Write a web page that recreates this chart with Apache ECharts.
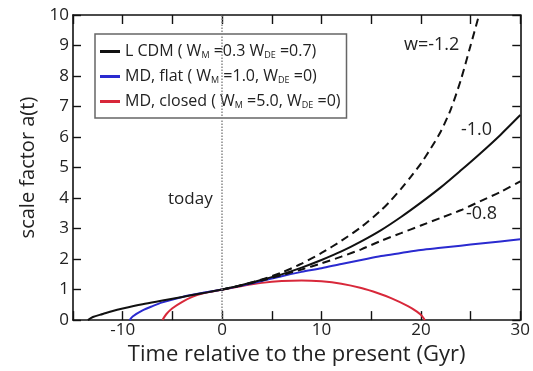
<!DOCTYPE html>
<html>
<head>
<meta charset="utf-8">
<script src="https://cdn.jsdelivr.net/npm/echarts@6/dist/echarts.min.js"></script>
<style>html,body{margin:0;padding:0;background:#fff}#c{width:533px;height:371px}</style>
</head>
<body>
<div id="c"></div>
<script>
// ---- data (t in Gyr relative to today, a = scale factor) ----
var lcdmT = [-13.5, -13, -12, -11, -10, -8, -6, -4, -2, 0, 2, 4, 6, 8, 10, 12, 14, 16, 18, 20, 22, 24, 26, 28, 30];
var lcdmA = [0, 0.1, 0.2, 0.3, 0.38, 0.52, 0.64, 0.76, 0.88, 1.0, 1.15, 1.32, 1.5, 1.72, 1.97, 2.25, 2.58, 2.95, 3.38, 3.85, 4.35, 4.9, 5.47, 6.07, 6.72];

var flatT = [-9.3, -9, -8, -7, -6, -4, -2, 0, 2, 4, 6, 8, 10, 12, 14, 16, 18, 20, 22, 24, 26, 28, 30];
var flatA = [0, 0.12, 0.32, 0.46, 0.58, 0.76, 0.89, 1.0, 1.13, 1.28, 1.44, 1.58, 1.7, 1.84, 1.97, 2.1, 2.2, 2.3, 2.37, 2.44, 2.51, 2.58, 2.65];

var closedT = [-6, -5.6, -5, -4, -3, -2, -1, 0, 2, 4, 6, 8, 10, 12, 14, 15.7, 17, 18.7, 19.6, 20.1, 20.4];
var closedA = [0, 0.2, 0.39, 0.6, 0.76, 0.87, 0.94, 1.0, 1.12, 1.22, 1.28, 1.3, 1.27, 1.19, 1.05, 0.88, 0.72, 0.46, 0.28, 0.14, 0];

var w12T = [0, 2, 4, 6, 8, 10, 12, 14, 16, 17, 18, 19, 20, 21, 22, 23, 24, 25, 25.85];
var w12A = [1.0, 1.15, 1.33, 1.56, 1.85, 2.2, 2.6, 3.05, 3.6, 3.93, 4.3, 4.7, 5.13, 5.63, 6.18, 6.9, 7.85, 9.0, 10];

var w08T = [0, 2, 4, 6, 8, 10, 12, 14, 16, 18, 20, 22, 24, 26, 28, 30];
var w08A = [1.0, 1.14, 1.3, 1.47, 1.66, 1.86, 2.08, 2.32, 2.6, 2.85, 3.1, 3.35, 3.6, 3.9, 4.2, 4.55];

var seriesNames = ['LCDM', 'MDflat', 'MDclosed'];
var legendTexts = {
  LCDM: 'L CDM ( W{sub|M} =0.3 W{sub|DE} =0.7)',
  MDflat: 'MD, flat ( W{sub|M} =1.0, W{sub|DE} =0)',
  MDclosed: 'MD, closed ( W{sub|M} =5.0, W{sub|DE} =0)'
};
var xTickLabels = [-10, 0, 10, 20, 30];
var yTickLabels = [0, 1, 2, 3, 4, 5, 6, 7, 8, 9, 10];
var curveLabels = ['w=-1.2', '-1.0', '-0.8'];

function pairs(t, a) { return t.map(function (v, i) { return [v, a[i]]; }); }

var FONT = 'Open Sans';
var chart = echarts.init(document.getElementById('c'), null, {renderer: 'canvas'});

var axisLineStyle = {color: '#111', width: 1.6};
var option = {
  animation: false,
  backgroundColor: '#fff',
  textStyle: {fontFamily: FONT},
  grid: {left: 73, right: 10, top: 15, bottom: 49, containLabel: false},
  xAxis: [{
    type: 'value', min: -15, max: 30, interval: 5,
    name: 'Time relative to the present (Gyr)', nameLocation: 'middle', nameGap: 23,
    nameTextStyle: {fontSize: 22, color: '#222', fontFamily: FONT},
    axisLine: {show: true, onZero: false, lineStyle: axisLineStyle},
    axisTick: {show: true, inside: true, length: 9, lineStyle: {color: '#111', width: 1.4}},
    axisLabel: {fontSize: 17, color: '#222', margin: 2, showMinLabel: true, showMaxLabel: true,
      formatter: function (v) { return xTickLabels.indexOf(v) >= 0 ? String(v) : ''; }},
    splitLine: {show: false}
  }, {
    type: 'value', min: -15, max: 30, interval: 5, position: 'top',
    axisLine: {show: true, onZero: false, lineStyle: axisLineStyle},
    axisTick: {show: true, inside: true, length: 9, lineStyle: {color: '#111', width: 1.4}},
    axisLabel: {show: false}, splitLine: {show: false}
  }],
  yAxis: [{
    type: 'value', min: 0, max: 10, interval: 1,
    name: 'scale factor a(t)', nameLocation: 'middle', nameGap: 33,
    nameTextStyle: {fontSize: 20, color: '#222', fontFamily: FONT},
    axisLine: {show: true, onZero: false, lineStyle: axisLineStyle},
    axisTick: {show: true, inside: true, length: 8, lineStyle: {color: '#111', width: 1.4}},
    axisLabel: {fontSize: 17, color: '#222', margin: 4,
      formatter: function (v) { return yTickLabels.indexOf(v) >= 0 ? String(v) : ''; }},
    splitLine: {show: false}
  }, {
    type: 'value', min: 0, max: 10, interval: 1, position: 'right',
    axisLine: {show: true, onZero: false, lineStyle: axisLineStyle},
    axisTick: {show: true, inside: true, length: 8, lineStyle: {color: '#111', width: 1.4}},
    axisLabel: {show: false}, splitLine: {show: false}
  }],
  legend: {
    data: seriesNames,
    orient: 'vertical', left: 95, top: 34,
    padding: [8, 6, 7, 5], itemGap: 6,
    borderColor: '#666', borderWidth: 1.5, backgroundColor: '#fff',
    icon: 'rect', itemWidth: 20, itemHeight: 3,
    formatter: function (n) { return legendTexts[n]; },
    textStyle: {fontSize: 16, color: '#222', fontFamily: FONT, lineHeight: 19,
      rich: {sub: {fontSize: 9, color: '#222', padding: [8, 0, 0, 0], fontFamily: FONT}}}
  },
  graphic: [
    {type: 'text', left: 168, top: 191, style: {text: 'today', fontSize: 17, fill: '#222', fontFamily: FONT}},
    {type: 'text', left: 404, top: 36, style: {text: curveLabels[0], fontSize: 18, fill: '#222', fontFamily: FONT}},
    {type: 'text', left: 461, top: 121, style: {text: curveLabels[1], fontSize: 18, fill: '#222', fontFamily: FONT}},
    {type: 'text', left: 466, top: 205, style: {text: curveLabels[2], fontSize: 18, fill: '#222', fontFamily: FONT}}
  ],
  series: [
    {name: 'w12', type: 'line', data: pairs(w12T, w12A), showSymbol: false, smooth: 0.25,
      lineStyle: {color: '#111', width: 2, type: [8, 5]}, z: 3},
    {name: 'w08', type: 'line', data: pairs(w08T, w08A), showSymbol: false, smooth: 0.25,
      lineStyle: {color: '#111', width: 2, type: [8, 5]}, z: 3},
    {name: 'MDclosed', type: 'line', data: pairs(closedT, closedA), showSymbol: false, smooth: 0.3,
      color: '#d8283a', lineStyle: {color: '#d8283a', width: 2}, z: 2},
    {name: 'MDflat', type: 'line', data: pairs(flatT, flatA), showSymbol: false, smooth: 0.3,
      color: '#2a2ad0', lineStyle: {color: '#2a2ad0', width: 2}, z: 2},
    {name: 'LCDM', type: 'line', data: pairs(lcdmT, lcdmA), showSymbol: false, smooth: 0.3,
      color: '#111', lineStyle: {color: '#111', width: 2}, z: 4,
      markLine: {silent: true, symbol: 'none', label: {show: false},
        lineStyle: {color: '#888', type: 'dotted', width: 1.5},
        data: [{xAxis: 0}]}}
  ]
};
chart.setOption(option);
</script>
</body>
</html>
